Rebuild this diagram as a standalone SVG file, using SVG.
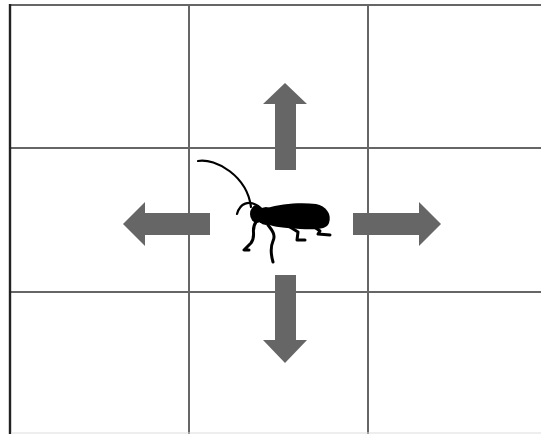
<svg xmlns="http://www.w3.org/2000/svg" width="541" height="434" viewBox="0 0 541 434">
  <style>
    .grid { stroke: #666; stroke-width: 2; fill: none; }
    .edge { stroke: #222; stroke-width: 2.4; fill: none; }
    .arrow { fill: #666; }
    .leg { stroke: #000; stroke-width: 3; fill: none; stroke-linecap: round; stroke-linejoin: round; }
    .feeler { stroke: #000; stroke-width: 2.2; fill: none; stroke-linecap: round; }
  </style>
  <rect width="541" height="434" fill="#fff"/>

  <!-- 3x3 grid -->
  <g id="grid">
    <line class="grid" x1="189" y1="5" x2="189" y2="434"/>
    <line class="grid" x1="368" y1="5" x2="368" y2="434"/>
    <line class="grid" x1="10" y1="148" x2="541" y2="148"/>
    <line class="grid" x1="10" y1="292" x2="541" y2="292"/>
    <line class="grid" x1="9" y1="5" x2="541" y2="5" stroke="#555"/>
    <line class="edge" x1="10" y1="4" x2="10" y2="434"/>
    <line x1="11" y1="433" x2="541" y2="433" stroke="#ddd" stroke-width="1"/>
  </g>

  <!-- movement arrows -->
  <g id="connectors">
    <polygon id="arrow-up" class="arrow" points="275,170 275,104 263,104 285,83 307,104 296,104 296,170"/>
    <polygon id="arrow-down" class="arrow" points="275,275 275,340 263,340 285,363 307,340 296,340 296,275"/>
    <polygon id="arrow-left" class="arrow" points="210,213 145,213 145,202 123,224 145,246 145,235 210,235"/>
    <polygon id="arrow-right" class="arrow" points="353,213 419,213 419,202 441,224 419,246 419,235 353,235"/>
  </g>

  <!-- beetle -->
  <g id="beetle">
    <path class="feeler" d="M198,161 C216,158 247,176 251,207"/>
    <path class="feeler" d="M258,206 C249,200 240,203 237,214"/>
    <ellipse cx="257" cy="214" rx="7" ry="9" fill="#000"/>
    <ellipse cx="266" cy="216" rx="9" ry="9" fill="#000"/>
    <path fill="#000" d="M267,208 C280,204 300,202 316,204 C326,206 332,214 329,223 C327,229 318,230 300,229 C285,228 274,227 267,224 Z"/>
    <path class="leg" d="M256,222 C250,230 257,235 251,243 L244,250 L249,250"/>
    <path class="leg" d="M268,225 C272,230 276,235 273,241 C270,248 271,255 273,262"/>
    <path class="leg" d="M290,227 L298,232 L297,240 L305,240"/>
    <path class="leg" d="M313,226 L320,231 L318,234 L330,235"/>
  </g>
</svg>
